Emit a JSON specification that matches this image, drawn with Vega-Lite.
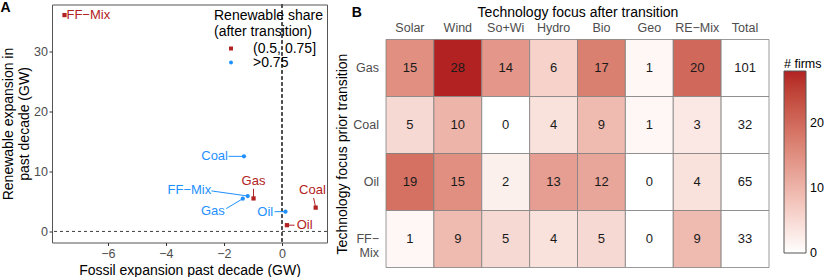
{
  "$schema": "https://vega.github.io/schema/vega-lite/v6.json",
  "padding": {"left": 0, "top": 0.5, "right": 0, "bottom": 0},
  "background": "white",
  "config": {
    "font": "Liberation Sans",
    "view": {"stroke": null},
    "axis": {"grid": false}
  },
  "spacing": 7,
  "resolve": {"scale": {"color": "independent", "shape": "independent"}, "legend": {"color": "independent", "shape": "independent"}},
  "hconcat": [
    {
      "width": 275,
      "height": 238,
      "title": {"text": "A", "anchor": "start", "frame": "bounds", "fontSize": 14, "fontWeight": "bold", "color": "#000", "dy": 11, "dx": -1, "offset": 0},
      "view": {"stroke": "#555555", "strokeWidth": 1},
      "data": {
        "values": [
          {"prior": "FF−Mix", "share": "(0.5, 0.75]", "x": -7.49, "y": 36.0, "lx": -6.67, "ly": 36.0, "sx": -7.49, "sy": 36.0},
          {"prior": "Gas", "share": "(0.5, 0.75]", "x": -0.98, "y": 5.5, "lx": -0.98, "ly": 8.4, "sx": -0.98, "sy": 7.1},
          {"prior": "Coal", "share": "(0.5, 0.75]", "x": 1.16, "y": 3.97, "lx": 1.05, "ly": 6.86, "sx": 1.09, "sy": 5.58},
          {"prior": "Oil", "share": "(0.5, 0.75]", "x": 0.17, "y": 1.05, "lx": 0.78, "ly": 1.05, "sx": 0.43, "sy": 1.05},
          {"prior": "Coal", "share": ">0.75", "x": -1.31, "y": 12.5, "lx": -2.32, "ly": 12.5, "sx": -1.84, "sy": 12.5},
          {"prior": "FF−Mix", "share": ">0.75", "x": -1.18, "y": 5.9, "lx": -3.19, "ly": 6.86, "sx": -2.43, "sy": 6.75},
          {"prior": "Gas", "share": ">0.75", "x": -1.35, "y": 5.46, "lx": -2.38, "ly": 3.42, "sx": -1.92, "sy": 3.81},
          {"prior": "Oil", "share": ">0.75", "x": 0.12, "y": 3.3, "lx": -0.575, "ly": 3.3, "sx": -0.255, "sy": 3.3}
        ]
      },
      "layer": [
        {
          "mark": {"type": "rule", "strokeDash": [3, 3], "color": "#4d4d4d", "strokeWidth": 0.9},
          "encoding": {"x": {"datum": 0, "type": "quantitative"}}
        },
        {
          "mark": {"type": "rule", "strokeDash": [3, 3], "color": "#4d4d4d", "strokeWidth": 0.9},
          "encoding": {"y": {"datum": 0, "type": "quantitative"}}
        },
        {
          "mark": {"type": "rule", "strokeWidth": 1},
          "encoding": {
            "x": {"field": "sx", "type": "quantitative"},
            "y": {"field": "sy", "type": "quantitative"},
            "x2": {"field": "x"},
            "y2": {"field": "y"},
            "stroke": {"field": "share", "type": "nominal", "scale": {"domain": ["(0.5, 0.75]", ">0.75"], "range": ["#B22222", "#1E90FF"]}, "legend": null}
          }
        },
        {
          "mark": {"type": "point", "filled": true, "size": 18, "opacity": 1},
          "encoding": {
            "x": {
              "field": "x", "type": "quantitative",
              "scale": {"domain": [-7.92, 1.55], "nice": false, "zero": false},
              "axis": {"title": "Fossil expansion past decade (GW)", "values": [-6, -4, -2, 0], "tickSize": 3, "tickColor": "#333333", "domain": false, "labelFontSize": 12.5, "labelColor": "#4d4d4d", "labelPadding": 2, "titleFontSize": 14, "titleFontWeight": "normal", "titleColor": "#000", "titlePadding": 3}
            },
            "y": {
              "field": "y", "type": "quantitative",
              "scale": {"domain": [-1.83, 37.76], "nice": false, "zero": false},
              "axis": {"title": ["Renewable expansion in", "past decade (GW)"], "values": [0, 10, 20, 30], "tickSize": 3, "tickColor": "#333333", "domain": false, "labelFontSize": 12.5, "labelColor": "#4d4d4d", "labelPadding": 1.5, "titleFontSize": 14, "titleFontWeight": "normal", "titleColor": "#000", "titlePadding": 2.5, "titleLineHeight": 15.5}
            },
            "color": {
              "field": "share", "type": "nominal",
              "scale": {"domain": ["(0.5, 0.75]", ">0.75"], "range": ["#B22222", "#1E90FF"]},
              "legend": {"orient": "none", "legendX": 162, "legendY": 4, "title": ["Renewable share", "(after transition)"], "titleFontSize": 14, "titleFontWeight": "normal", "titleColor": "#000", "titleLineHeight": 16, "labelFontSize": 14, "labelColor": "#000", "symbolSize": 16, "symbolOffset": 10, "labelOffset": 15, "rowPadding": 0, "titlePadding": 3, "padding": 0}
            },
            "shape": {
              "field": "share", "type": "nominal",
              "scale": {"domain": ["(0.5, 0.75]", ">0.75"], "range": ["square", "circle"]},
              "legend": {"orient": "none", "legendX": 162, "legendY": 4, "title": ["Renewable share", "(after transition)"], "titleFontSize": 14, "titleFontWeight": "normal", "titleColor": "#000", "titleLineHeight": 16, "labelFontSize": 14, "labelColor": "#000", "symbolSize": 16, "symbolOffset": 10, "labelOffset": 15, "rowPadding": 0, "titlePadding": 3, "padding": 0}
            }
          }
        },
        {
          "mark": {"type": "text", "fontSize": 13, "align": "center", "baseline": "middle"},
          "encoding": {
            "x": {"field": "lx", "type": "quantitative"},
            "y": {"field": "ly", "type": "quantitative"},
            "text": {"field": "prior"},
            "fill": {"field": "share", "type": "nominal", "scale": {"domain": ["(0.5, 0.75]", ">0.75"], "range": ["#B22222", "#1E90FF"]}, "legend": null}
          }
        }
      ]
    },
    {
      "spacing": 0,
      "vconcat": [
        {
          "width": 1,
          "height": 1,
          "data": {"values": []},
          "mark": {"type": "point", "opacity": 0}
        },
        {
          "width": 383,
          "height": 228,
          "title": {"text": "B", "anchor": "start", "frame": "bounds", "fontSize": 14, "fontWeight": "bold", "color": "#000", "dy": 14, "dx": 16, "offset": 0},
          "view": {"stroke": null},
          "data": {
            "values": [
              {"prior": "Gas", "after": "Solar", "n": 15}, {"prior": "Gas", "after": "Wind", "n": 28}, {"prior": "Gas", "after": "So+Wi", "n": 14}, {"prior": "Gas", "after": "Hydro", "n": 6}, {"prior": "Gas", "after": "Bio", "n": 17}, {"prior": "Gas", "after": "Geo", "n": 1}, {"prior": "Gas", "after": "RE−Mix", "n": 20}, {"prior": "Gas", "after": "Total", "n": 101},
              {"prior": "Coal", "after": "Solar", "n": 5}, {"prior": "Coal", "after": "Wind", "n": 10}, {"prior": "Coal", "after": "So+Wi", "n": 0}, {"prior": "Coal", "after": "Hydro", "n": 4}, {"prior": "Coal", "after": "Bio", "n": 9}, {"prior": "Coal", "after": "Geo", "n": 1}, {"prior": "Coal", "after": "RE−Mix", "n": 3}, {"prior": "Coal", "after": "Total", "n": 32},
              {"prior": "Oil", "after": "Solar", "n": 19}, {"prior": "Oil", "after": "Wind", "n": 15}, {"prior": "Oil", "after": "So+Wi", "n": 2}, {"prior": "Oil", "after": "Hydro", "n": 13}, {"prior": "Oil", "after": "Bio", "n": 12}, {"prior": "Oil", "after": "Geo", "n": 0}, {"prior": "Oil", "after": "RE−Mix", "n": 4}, {"prior": "Oil", "after": "Total", "n": 65},
              {"prior": "FF−Mix", "after": "Solar", "n": 1}, {"prior": "FF−Mix", "after": "Wind", "n": 9}, {"prior": "FF−Mix", "after": "So+Wi", "n": 5}, {"prior": "FF−Mix", "after": "Hydro", "n": 4}, {"prior": "FF−Mix", "after": "Bio", "n": 5}, {"prior": "FF−Mix", "after": "Geo", "n": 0}, {"prior": "FF−Mix", "after": "RE−Mix", "n": 9}, {"prior": "FF−Mix", "after": "Total", "n": 33}
            ]
          },
          "encoding": {
            "x": {
              "field": "after", "type": "nominal",
              "sort": ["Solar", "Wind", "So+Wi", "Hydro", "Bio", "Geo", "RE−Mix", "Total"],
              "scale": {"paddingInner": 0, "paddingOuter": 0},
              "axis": {"orient": "top", "title": "Technology focus after transition", "ticks": false, "domain": false, "labelAngle": 0, "labelPadding": 5, "labelFontSize": 12.5, "labelColor": "#4d4d4d", "titleFontSize": 14, "titleFontWeight": "normal", "titleColor": "#000", "titlePadding": 2}
            },
            "y": {
              "field": "prior", "type": "nominal",
              "sort": ["Gas", "Coal", "Oil", "FF−Mix"],
              "scale": {"paddingInner": 0, "paddingOuter": 0},
              "axis": {"title": "Technology focus prior transition", "ticks": false, "domain": false, "labelPadding": 7.5, "labelFontSize": 12.5, "labelColor": "#4d4d4d", "labelLineHeight": 14, "labelExpr": "datum.label == 'FF−Mix' ? ['FF−', 'Mix'] : datum.label", "titleFontSize": 14, "titleFontWeight": "normal", "titleColor": "#000", "titlePadding": 3}
            }
          },
          "layer": [
            {
              "transform": [{"filter": "datum.after != 'Total'"}],
              "mark": {"type": "rect", "stroke": "#808080", "strokeWidth": 0.8},
              "encoding": {
                "color": {
                  "field": "n", "type": "quantitative",
                  "scale": {"domain": [-0.05, 28], "range": ["#ffffff", "#b22222"], "interpolate": "lab"},
                  "legend": {"orient": "none", "legendX": 398, "legendY": 53, "title": "# firms", "titleFontSize": 12.5, "titleFontWeight": "normal", "titleColor": "#000", "titlePadding": 1, "gradientLength": 182, "gradientThickness": 22, "gradientStrokeColor": "#555555", "gradientStrokeWidth": 1, "labelFontSize": 12.5, "labelColor": "#000", "values": [0, 10, 20], "labelOffset": 4, "padding": 0}
                }
              }
            },
            {
              "transform": [{"filter": "datum.after == 'Total'"}],
              "mark": {"type": "rect", "fill": "white", "stroke": "#808080", "strokeWidth": 0.8}
            },
            {
              "mark": {"type": "text", "fontSize": 13, "color": "#1a1a1a"},
              "encoding": {"text": {"field": "n", "type": "quantitative"}}
            }
          ]
        }
      ]
    }
  ]
}
